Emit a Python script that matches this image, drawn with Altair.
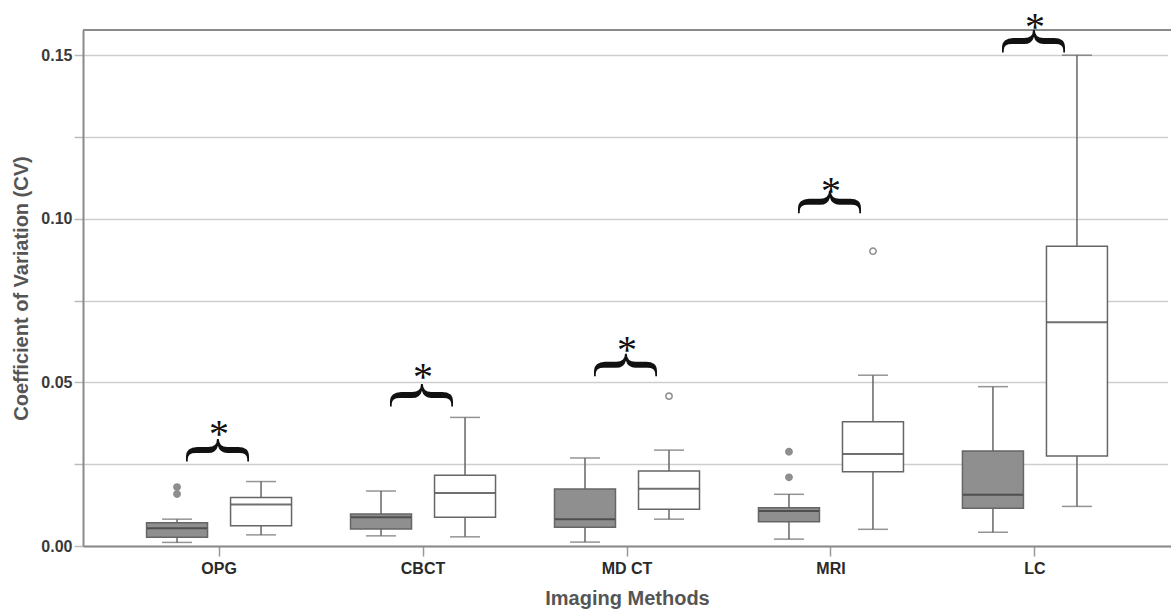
import altair as alt
import pandas as pd

methods = ["OPG", "CBCT", "MD CT", "MRI", "LC"]
groups = ["Group 1", "Group 2"]

# Group 1 (grey boxes)
g1_lower  = [0.0011, 0.0031, 0.0012, 0.0021, 0.0042]
g1_q1     = [0.0027, 0.0052, 0.0057, 0.0074, 0.0115]
g1_median = [0.0054, 0.0088, 0.0082, 0.0107, 0.0157]
g1_q3     = [0.0071, 0.0098, 0.0174, 0.0117, 0.0290]
g1_upper  = [0.0082, 0.0168, 0.0269, 0.0158, 0.0487]

# Group 2 (white boxes)
g2_lower  = [0.0034, 0.0028, 0.0082, 0.0051, 0.0121]
g2_q1     = [0.0062, 0.0088, 0.0112, 0.0227, 0.0275]
g2_median = [0.0127, 0.0162, 0.0175, 0.0281, 0.0684]
g2_q3     = [0.0148, 0.0216, 0.0229, 0.0380, 0.0916]
g2_upper  = [0.0197, 0.0393, 0.0293, 0.0522, 0.1500]

out_method = ["OPG", "OPG", "MD CT", "MRI", "MRI", "MRI"]
out_group  = ["Group 1", "Group 1", "Group 2", "Group 1", "Group 1", "Group 2"]
out_value  = [0.0159, 0.0180, 0.0458, 0.0210, 0.0288, 0.0901]

sig_brace = [0.0293, 0.0461, 0.0553, 0.1051, 0.1543]
sig_star  = [0.0360, 0.0535, 0.0617, 0.1103, 0.1604]

y_ticks = [0.0, 0.025, 0.05, 0.075, 0.10, 0.125, 0.15]

rows = []
for i, m in enumerate(methods):
    rows.append(dict(method=m, group=groups[0], lower=g1_lower[i], q1=g1_q1[i],
                     median=g1_median[i], q3=g1_q3[i], upper=g1_upper[i]))
    rows.append(dict(method=m, group=groups[1], lower=g2_lower[i], q1=g2_q1[i],
                     median=g2_median[i], q3=g2_q3[i], upper=g2_upper[i]))
box_df = pd.DataFrame(rows)
out_df = pd.DataFrame(dict(method=out_method, group=out_group, value=out_value))
sig_df = pd.DataFrame(dict(method=methods, brace=sig_brace, star=sig_star))

W, H = 1088, 516

x_scale = alt.Scale(type="band", domain=methods, paddingInner=0, paddingOuter=0.167)
xo_scale = alt.Scale(domain=groups, paddingInner=0.274, paddingOuter=0.351)
y_scale = alt.Scale(domain=[0, 0.1577], nice=False, zero=True)
color_scale = alt.Scale(domain=groups, range=["#8f8f8f", "#ffffff"])

x_enc = alt.X("method:N", scale=x_scale, sort=methods, title="Imaging Methods",
              axis=alt.Axis(labelFont="Liberation Sans", labelFontSize=16, labelFontWeight="bold",
                            labelColor="#2a2a2a", labelPadding=4, labelAngle=0,
                            tickSize=10, tickColor="#999999", tickWidth=1.5,
                            domainColor="#8a8a8a", domainWidth=2, grid=False,
                            titleFont="Liberation Sans", titleFontSize=20, titleFontWeight="bold",
                            titleColor="#555555", titleY=52, titleBaseline="middle"))
xo_enc = alt.XOffset("group:N", scale=xo_scale)

y_axis = alt.Axis(values=y_ticks, orient="left",
                  labelExpr="round(datum.value*1000) % 50 == 0 ? format(datum.value, '.2f') : ''",
                  labelFont="Liberation Sans", labelFontSize=16, labelFontWeight="bold",
                  labelColor="#3a3a3a", labelPadding=2,
                  tickSize=9, tickColor="#bbbbbb", tickWidth=1.5,
                  grid=True, gridColor="#cecece", gridWidth=1.6,
                  domainColor="#8a8a8a", domainWidth=2,
                  titleFont="Liberation Sans", titleFontSize=20, titleFontWeight="bold",
                  titleColor="#555555", titleX=-62, titleBaseline="middle")

base = alt.Chart(box_df)

whisker = base.mark_rule(color="#666666", strokeWidth=1.5).encode(
    x=x_enc, xOffset=xo_enc,
    y=alt.Y("lower:Q", scale=y_scale, axis=y_axis, title="Coefficient of Variation (CV)"),
    y2="upper:Q",
)
cap_low = base.mark_tick(color="#666666", size=30, thickness=1.5).encode(
    x=x_enc, xOffset=xo_enc, y=alt.Y("lower:Q", scale=y_scale))
cap_up = base.mark_tick(color="#666666", size=30, thickness=1.5).encode(
    x=x_enc, xOffset=xo_enc, y=alt.Y("upper:Q", scale=y_scale))
box = base.mark_bar(stroke="#666666", strokeWidth=1.5).encode(
    x=x_enc, xOffset=xo_enc,
    y=alt.Y("q1:Q", scale=y_scale), y2="q3:Q",
    fill=alt.Fill("group:N", scale=color_scale, legend=None),
)
med = base.mark_tick(color="#333333", size=60, thickness=2).encode(
    x=x_enc, xOffset=xo_enc, y=alt.Y("median:Q", scale=y_scale))

outl = alt.Chart(out_df).mark_point(shape="circle", size=40, strokeWidth=1.5, opacity=1,
                                    stroke="#8c8c8c", filled=False).encode(
    x=x_enc, xOffset=xo_enc, y=alt.Y("value:Q", scale=y_scale),
    fill=alt.Fill("group:N", scale=color_scale, legend=None),
)

# the plot area is open on the right: mask the right edge of the view
right_mask = alt.Chart(sig_df).mark_rule(color="white", strokeWidth=5).encode(
    x=alt.value(W), y=alt.value(-2), y2=alt.value(H - 1))

# top frame line of the plot area
top_frame = alt.Chart(sig_df).mark_rule(color="#8a8a8a", strokeWidth=2).encode(
    x=alt.value(0), x2=alt.value(W), y=alt.value(0))

brace = alt.Chart(sig_df).mark_text(text="{", angle=90, font="Liberation Serif", fontSize=76,
                                    align="center", baseline="middle", color="#111111").encode(
    x=alt.X("method:N", scale=x_scale, sort=methods),
    y=alt.Y("brace:Q", scale=y_scale),
)
star = alt.Chart(sig_df).mark_text(text="*", font="Liberation Serif", fontSize=40,
                                   align="center", baseline="alphabetic", dy=19,
                                   color="#111111").encode(
    x=alt.X("method:N", scale=x_scale, sort=methods),
    y=alt.Y("star:Q", scale=y_scale),
)

chart = alt.layer(whisker, cap_low, cap_up, box, med, outl, right_mask, top_frame, brace, star).properties(
    width=W, height=H,
    autosize=alt.AutoSizeParams(type="none"),
    padding={"left": 83, "top": 30, "right": 0, "bottom": 64},
).configure_view(stroke=None, fill="white").configure(background="white")

chart.save("out.html", embed_options={"renderer": "svg", "actions": False})
